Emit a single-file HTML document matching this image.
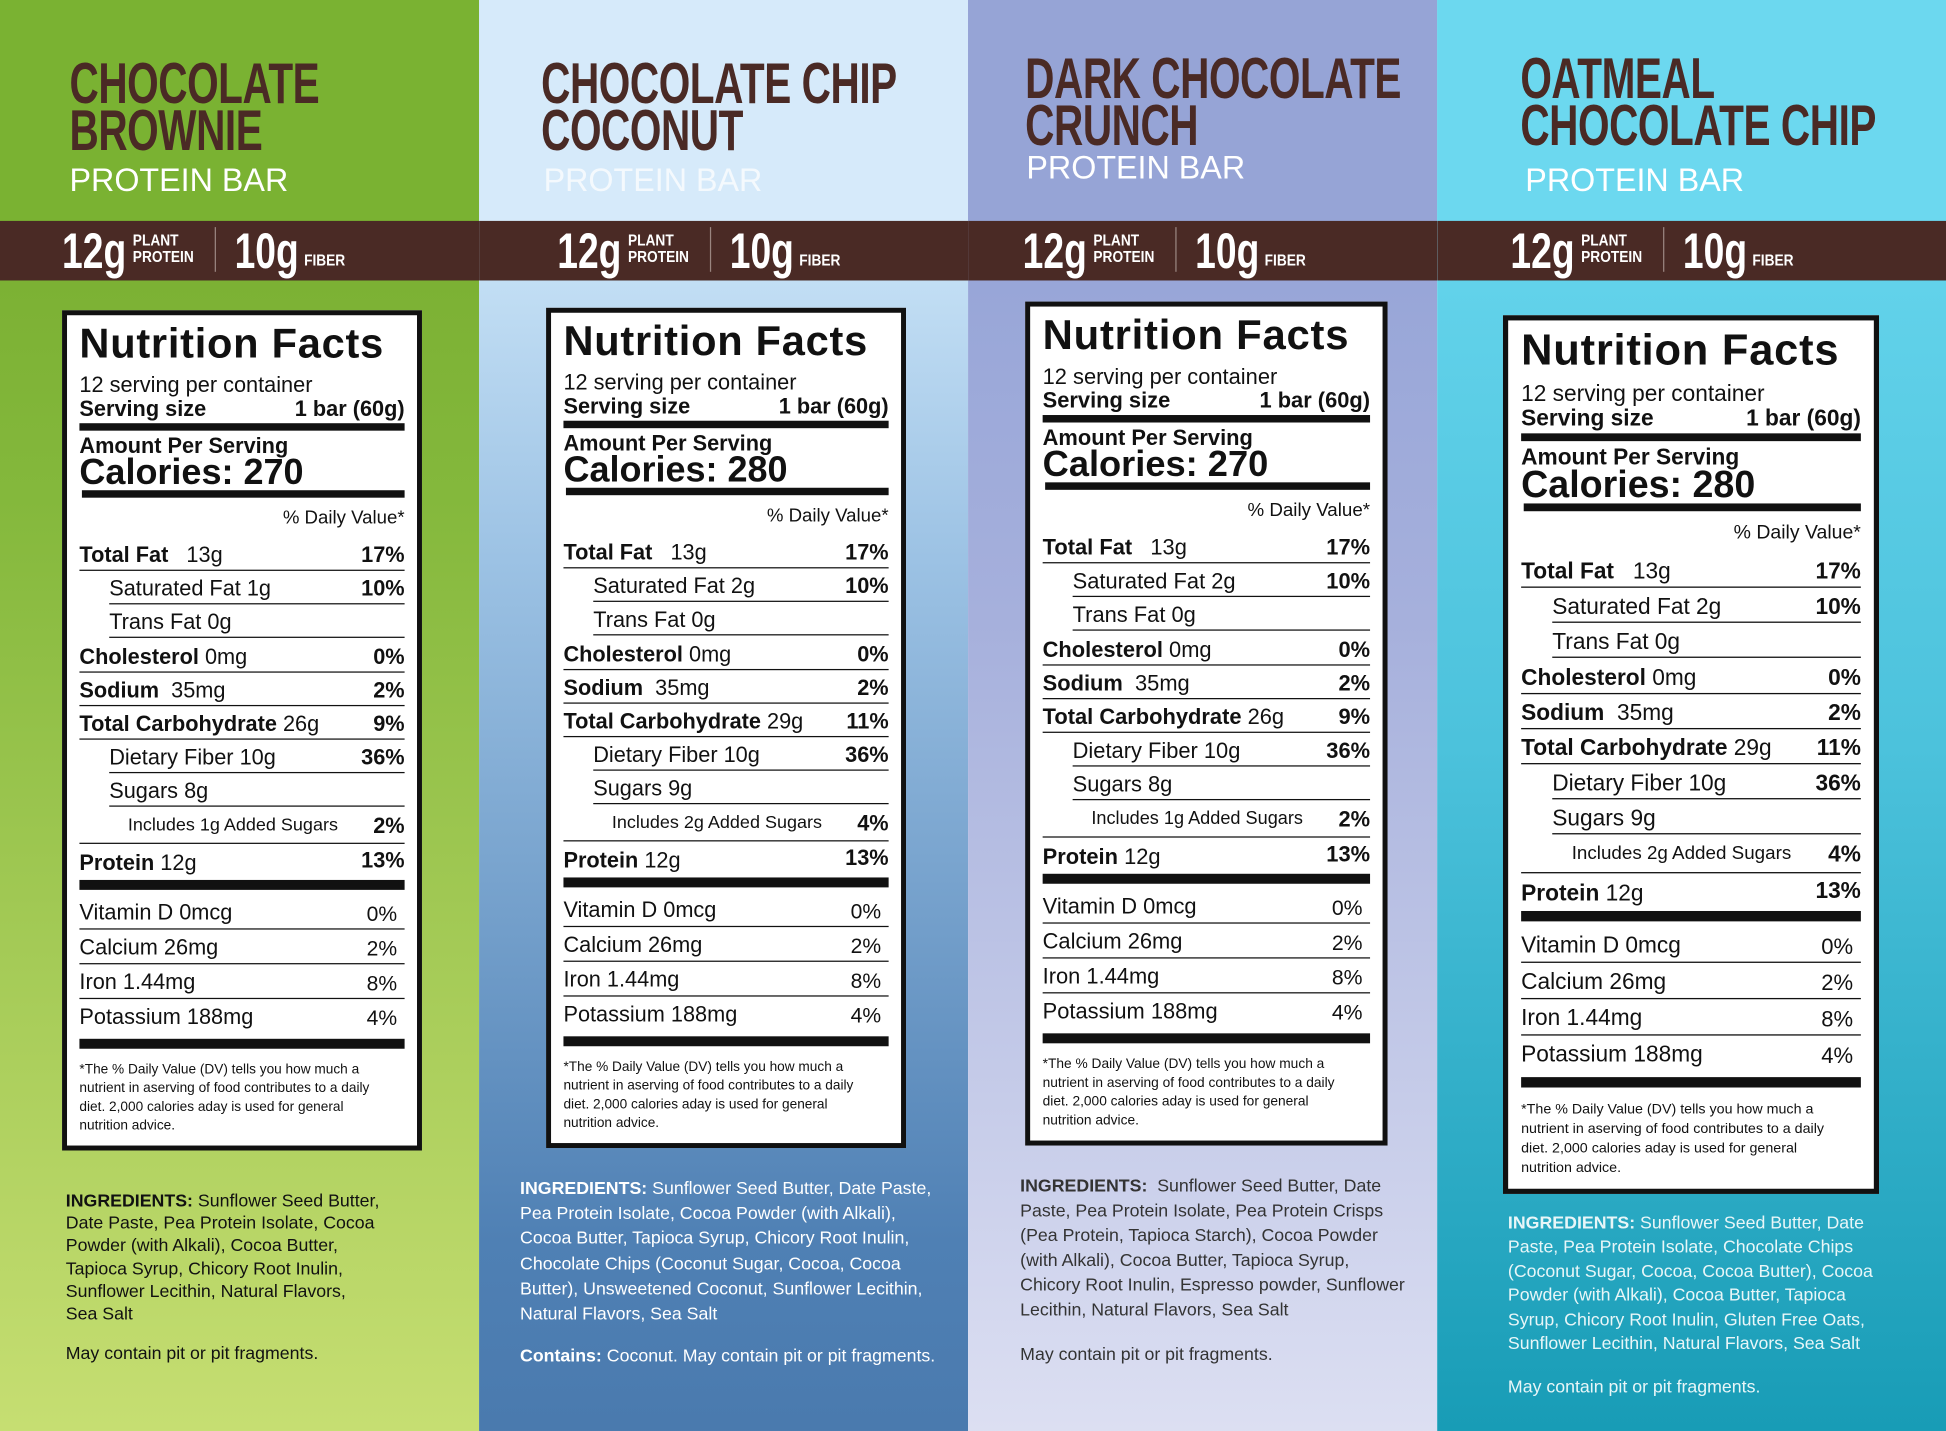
<!DOCTYPE html>
<html><head><meta charset="utf-8">
<style>
html,body{margin:0;padding:0;width:1946px;height:1431px;overflow:hidden;background:#fff}
#w{position:absolute;left:0;top:0;width:1568px;height:1153px;transform:scale(1.2411);transform-origin:0 0;font-family:"Liberation Sans",sans-serif}
.p{position:absolute;top:0;height:1153px;overflow:hidden}
.hd{position:absolute;left:0;right:0;top:0;height:178px}
.band{position:absolute;left:0;right:0;top:178px;height:48px;background:#4a2a25}
.t{position:absolute;font-weight:bold;color:#4a2a25;font-size:46px;line-height:38px;transform:scaleX(.71);transform-origin:0 0;white-space:nowrap;letter-spacing:-0.5px}
.sub{position:absolute;color:#fff;font-size:26px;white-space:nowrap}
.b{position:absolute;color:#fff;font-weight:bold;white-space:nowrap;top:178px;height:48px}
.b .n{position:absolute;top:3px;font-size:40px;transform:scaleX(.75);transform-origin:0 0}
.b .s{position:absolute;font-size:13px;line-height:13px;top:9px;transform:scaleX(.85);transform-origin:0 0}
.b .d{position:absolute;top:5px;width:1px;height:36px;background:#9a8580}
.lab{position:absolute;width:282px;height:669px;border:4px solid #111;background:#fff;transform-origin:0 0;color:#111}
.lab div{position:absolute;white-space:nowrap}
.ing{position:absolute;font-size:14.3px;line-height:18.2px}
</style></head><body><div id="w">

<div class="p" style="left:0;width:386px;background:linear-gradient(#7cb134 226px,#84b83c 400px,#c6de72 1153px)">
 <div class="hd" style="background:#7ab232"></div><div class="band"></div>
 <div class="t" style="left:56px;top:48px">CHOCOLATE<br>BROWNIE</div>
 <div class="sub" style="left:56px;top:130px">PROTEIN BAR</div>
</div>
<div class="p" style="left:386px;width:394px;background:linear-gradient(#c2def4 226px,#9cc2e4 450px,#4f80b4 1000px,#4a7aae 1153px)">
 <div class="hd" style="background:#d6eafa"></div><div class="band"></div>
 <div class="t" style="left:50px;top:48px">CHOCOLATE CHIP<br>COCONUT</div>
 <div class="sub" style="left:52px;top:130px;color:#f4f9fd">PROTEIN BAR</div>
</div>
<div class="p" style="left:780px;width:378px;background:linear-gradient(#98a6d8 226px,#a6b0dc 500px,#dcdff2 1153px)">
 <div class="hd" style="background:#96a4d6"></div><div class="band"></div>
 <div class="t" style="left:46px;top:44px">DARK CHOCOLATE<br>CRUNCH</div>
 <div class="sub" style="left:47px;top:120px">PROTEIN BAR</div>
</div>
<div class="p" style="left:1158px;width:410px;background:linear-gradient(#62d2ea 226px,#4cc2dc 600px,#189cb6 1153px)">
 <div class="hd" style="background:#6cd8ef"></div><div class="band"></div>
 <div class="t" style="left:67px;top:44px">OATMEAL<br>CHOCOLATE CHIP</div>
 <div class="sub" style="left:71px;top:130px">PROTEIN BAR</div>
</div>

<div id="bands"></div>
<div id="labs"></div>

<div class="ing" style="left:53px;top:959px;color:#111"><b>INGREDIENTS:</b> Sunflower Seed Butter,<br>Date Paste, Pea Protein Isolate, Cocoa<br>Powder (with Alkali), Cocoa Butter,<br>Tapioca Syrup, Chicory Root Inulin,<br>Sunflower Lecithin, Natural Flavors,<br>Sea Salt<br><div style="position:static;margin-top:14px">May contain pit or pit fragments.</div></div>
<div class="ing" style="left:419px;top:948px;color:#fff;line-height:20.2px"><b>INGREDIENTS:</b> Sunflower Seed Butter, Date Paste,<br>Pea Protein Isolate, Cocoa Powder (with Alkali),<br>Cocoa Butter, Tapioca Syrup, Chicory Root Inulin,<br>Chocolate Chips (Coconut Sugar, Cocoa, Cocoa<br>Butter), Unsweetened Coconut, Sunflower Lecithin,<br>Natural Flavors, Sea Salt<br><div style="position:static;margin-top:14px"><b>Contains:</b> Coconut. May contain pit or pit fragments.</div></div>
<div class="ing" style="left:822px;top:946px;color:#333;line-height:20px"><b>INGREDIENTS:</b>&nbsp; Sunflower Seed Butter, Date<br>Paste, Pea Protein Isolate, Pea Protein Crisps<br>(Pea Protein, Tapioca Starch), Cocoa Powder<br>(with Alkali), Cocoa Butter, Tapioca Syrup,<br>Chicory Root Inulin, Espresso powder, Sunflower<br>Lecithin, Natural Flavors, Sea Salt<br><div style="position:static;margin-top:16px">May contain pit or pit fragments.</div></div>
<div class="ing" style="left:1215px;top:977px;color:#e8f6f8;line-height:19.4px"><b>INGREDIENTS:</b> Sunflower Seed Butter, Date<br>Paste, Pea Protein Isolate, Chocolate Chips<br>(Coconut Sugar, Cocoa, Cocoa Butter), Cocoa<br>Powder (with Alkali), Cocoa Butter, Tapioca<br>Syrup, Chicory Root Inulin, Gluten Free Oats,<br>Sunflower Lecithin, Natural Flavors, Sea Salt<br><div style="position:static;margin-top:16px">May contain pit or pit fragments.</div></div>

</div>
<script>
var bx=[50,449,824,1217];
var h='';
bx.forEach(function(x){
 h+='<div class="b" style="left:'+x+'px"><span class="n" style="left:0">12g</span><span class="s" style="left:57px">PLANT<br>PROTEIN</span><span class="d" style="left:123px"></span><span class="n" style="left:139px">10g</span><span class="s" style="left:195px;top:25px">FIBER</span></div>';
});
document.getElementById('bands').innerHTML=h;

var data=[
 {x:50,y:250,cal:270,sat:1,carb:26,cp:'9%',sug:8,add:1,ap:'2%'},
 {x:440,y:248,cal:280,sat:2,carb:29,cp:'11%',sug:9,add:2,ap:'4%'},
 {x:826,y:243,cal:270,sat:2,carb:26,cp:'9%',sug:8,add:1,ap:'2%'},
 {x:1211,y:254,cal:280,sat:2,carb:29,cp:'11%',sug:9,add:2,ap:'4%'}
];
var L='';
data.forEach(function(d){
 var o='';
 function t(l,top,html,st){o+='<div style="left:'+l+'px;top:'+top+'px;'+(st||'')+'">'+html+'</div>';}
 function r(top,html,st){o+='<div style="right:10px;top:'+top+'px;'+(st||'')+'">'+html+'</div>';}
 function ln(l,top,hh){o+='<div style="left:'+l+'px;right:10px;top:'+top+'px;height:'+hh+'px;background:#111"></div>';}
 t(10,5,'Nutrition Facts','font-weight:bold;font-size:33.5px;letter-spacing:0.6px');
 t(10,46,'12 serving per container','font-size:17.5px');
 t(10,65,'Serving size','font-size:17.5px;font-weight:bold');
 r(65,'1 bar (60g)','font-size:17.5px;font-weight:bold');
 ln(10,87,6);
 t(10,95,'Amount Per Serving','font-size:17.5px;font-weight:bold');
 t(10,111,'Calories: '+d.cal,'font-size:29px;font-weight:bold');
 ln(12,141,6);
 r(155,'% Daily Value*','font-size:15px');
 var rows=[
  [0,'<b>Total Fat</b>&nbsp;&nbsp; 13g','17%'],
  [24,'Saturated Fat '+d.sat+'g','10%'],
  [24,'Trans Fat 0g',''],
  [0,'<b>Cholesterol</b> 0mg','0%'],
  [0,'<b>Sodium</b>&nbsp; 35mg','2%'],
  [0,'<b>Total Carbohydrate</b> '+d.carb+'g',d.cp],
  [24,'Dietary Fiber 10g','36%'],
  [24,'Sugars '+d.sug+'g','']
 ];
 rows.forEach(function(rw,i){
  var top=183+i*27.2;
  t(10+rw[0], top, rw[1],'font-size:17.5px');
  if(rw[2]) r(top,'<b>'+rw[2]+'</b>','font-size:17.5px');
  ln(10+(i>=1&&i<=2?rw[0]:(i>=6?rw[0]:0)),top+22,1);
 });
 t(49,403,'Includes '+d.add+'g Added Sugars','font-size:14.5px');
 r(401,'<b>'+d.ap+'</b>','font-size:17.5px');
 ln(10,425,1);
 t(10,431,'<b>Protein</b> 12g','font-size:17.5px');
 r(429,'<b>13%</b>','font-size:17.5px');
 ln(10,455,8);
 [['Vitamin D 0mcg','0%'],['Calcium 26mg','2%'],['Iron 1.44mg','8%'],['Potassium 188mg','4%']].forEach(function(v,i){
  var top=471+i*28;
  t(10,top,v[0],'font-size:17.5px');
  o+='<div style="right:16px;top:'+(top+2)+'px;font-size:17px">'+v[1]+'</div>';
  if(i<3) ln(10,top+23,1);
 });
 ln(10,583,8);
 t(10,601,'*The % Daily Value (DV) tells you how much a<br>nutrient in aserving of food contributes to a daily<br>diet. 2,000 calories aday is used for general<br>nutrition advice.','font-size:11px;line-height:15px');
 var sx=(d.x==1211?303/290:(d.x==826?292/290:1)), sy=(d.x==1211?708/677:(d.x==826?680/677:1));
 L+='<div class="lab" style="left:'+d.x+'px;top:'+d.y+'px;transform:scale('+sx+','+sy+')">'+o+'</div>';
});
document.getElementById('labs').innerHTML=L;
</script>
</body></html>
